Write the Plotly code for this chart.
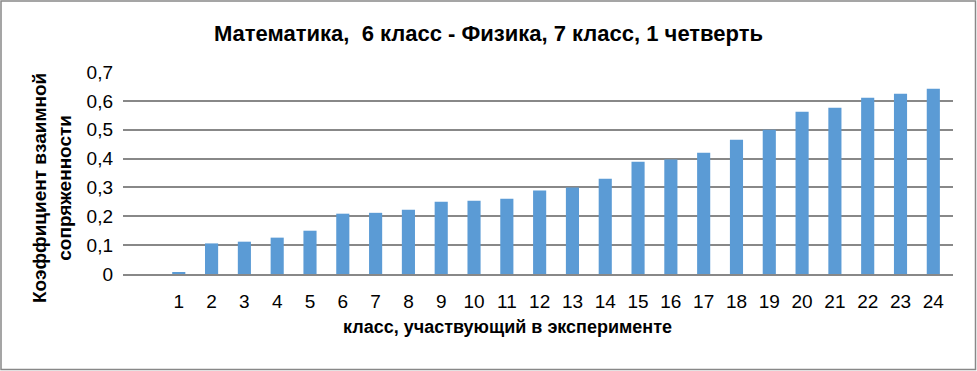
import plotly.graph_objects as go

categories = [str(i) for i in range(1, 25)]
values = [0.004, 0.106, 0.112, 0.126, 0.150, 0.209, 0.212, 0.223,
          0.250, 0.254, 0.261, 0.289, 0.300, 0.330, 0.389, 0.397,
          0.420, 0.465, 0.500, 0.562, 0.576, 0.611, 0.625, 0.642]
y_tickvals = [0, 0.1, 0.2, 0.3, 0.4, 0.5, 0.6, 0.7]
y_ticktext = ["0", "0,1", "0,2", "0,3", "0,4", "0,5", "0,6", "0,7"]

title_text = "Математика,  6 класс - Физика, 7 класс, 1 четверть"
x_title = "класс, участвующий в эксперименте"
y_title = "Коэффициент взаимной<br>сопряженности"

FONT = "Liberation Sans, Arial, sans-serif"

fig = go.Figure(go.Bar(x=categories, y=values, marker_color="#5B9BD5",
                       marker_line_width=0))

W, H = 977, 371
ml, mr, mt, mb = 123, 24, 72, 97
PW, PH = W - ml - mr, H - mt - mb

fig.update_layout(
    width=W, height=H,
    margin=dict(l=ml, r=mr, t=mt, b=mb, autoexpand=False),
    plot_bgcolor="white", paper_bgcolor="white",
    bargap=0.6, showlegend=False,
    font=dict(family=FONT, color="#000000"),
    xaxis=dict(type="category", range=[-1.7, 23.6], showgrid=False,
               showline=True, linecolor="#888888", linewidth=1.5,
               ticks="", tickfont=dict(size=19, family=FONT, color="#000"),
               ticklabelstandoff=9),
    yaxis=dict(range=[0, 0.7], tickvals=y_tickvals, ticktext=y_ticktext,
               showgrid=True, gridcolor="#888888", gridwidth=1.5,
               zeroline=False, showline=False, ticks="",
               tickfont=dict(size=19, family=FONT, color="#000"),
               ticklabelstandoff=9),
    annotations=[
        dict(text="<b>" + title_text + "</b>", xref="paper", yref="paper",
             x=(488 - ml) / PW, y=1 + (mt - 33) / PH,
             xanchor="center", yanchor="middle", showarrow=False,
             font=dict(size=22, family=FONT, color="#000")),
        dict(text="<b>" + x_title + "</b>", xref="paper", yref="paper",
             x=(507 - ml) / PW, y=-(327 - (H - mb)) / PH,
             xanchor="center", yanchor="middle", showarrow=False,
             font=dict(size=18, family=FONT, color="#000")),
        dict(text="<b>" + y_title + "</b>", xref="paper", yref="paper",
             x=-(ml - 52) / PW, y=(H - mb - 188) / PH,
             xanchor="center", yanchor="middle", showarrow=False,
             textangle=-90,
             font=dict(size=19, family=FONT, color="#000")),
    ],
    shapes=[dict(type="rect", xref="paper", yref="paper",
                 x0=-(ml - 1) / PW, x1=1 + (mr - 1.5) / PW,
                 y0=-(mb - 1.5) / PH, y1=1 + (mt - 1) / PH,
                 line=dict(color="#888888", width=1.5))],
)

fig.write_html(
    "out.html",
    config={"displayModeBar": False},
    post_script="document.body.style.margin='0';document.body.style.overflow='hidden';",
)
